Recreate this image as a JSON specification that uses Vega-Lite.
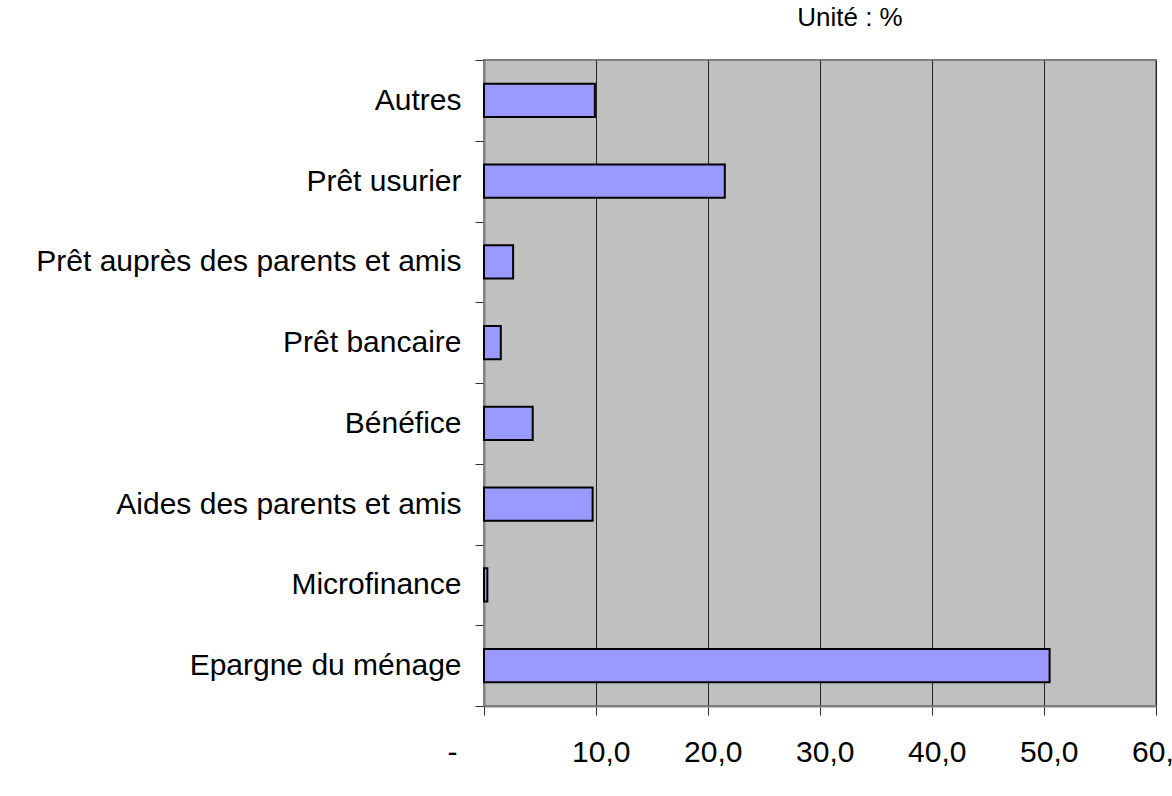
{
  "$schema": "https://vega.github.io/schema/vega-lite/v6.json",
  "autosize": {"type": "none"},
  "padding": {"left": 484, "top": 60, "right": 16, "bottom": 90},
  "width": 672,
  "height": 646,
  "background": "white",
  "title": {
    "text": "Unité : %",
    "font": "Liberation Sans",
    "fontSize": 26,
    "fontWeight": "normal",
    "color": "black",
    "anchor": "middle",
    "dx": 30,
    "baseline": "alphabetic",
    "offset": -7
  },
  "data": {
    "values": [
      {"source": "Autres", "value": 9.9},
      {"source": "Prêt usurier", "value": 21.5},
      {"source": "Prêt auprès des parents et amis", "value": 2.6},
      {"source": "Prêt bancaire", "value": 1.5},
      {"source": "Bénéfice", "value": 4.35},
      {"source": "Aides des parents et amis", "value": 9.7},
      {"source": "Microfinance", "value": 0.3},
      {"source": "Epargne du ménage", "value": 50.5}
    ]
  },
  "mark": {"type": "bar", "height": {"band": 0.41}, "fill": "#9999FF", "stroke": "black", "strokeWidth": 2},
  "encoding": {
    "y": {
      "field": "source",
      "type": "nominal",
      "sort": null,
      "title": null,
      "scale": {"paddingInner": 0, "paddingOuter": 0},
      "axis": {
        "tickBand": "extent",
        "tickSize": 9,
        "tickColor": "#333333",
        "tickWidth": 1,
        "labelPadding": 14,
        "labelFont": "Liberation Sans",
        "labelFontSize": 30,
        "labelColor": "black",
        "labelLimit": 600,
        "domainColor": "#808080",
        "domainWidth": 2,
        "grid": false
      }
    },
    "x": {
      "field": "value",
      "type": "quantitative",
      "title": null,
      "scale": {"domain": [0, 60], "nice": false},
      "axis": {
        "values": [0, 10, 20, 30, 40, 50, 60],
        "labelExpr": "datum.value == 0 ? '-' : replace(format(datum.value, '.1f'), '.', ',')",
        "labelAlign": "right",
        "labelOffset": {"condition": {"test": "datum.value == 0", "value": -27}, "value": 34},
        "labelFont": "Liberation Sans",
        "labelFontSize": 30,
        "labelColor": "black",
        "labelPadding": 22,
        "labelFlush": false,
        "labelOverlap": false,
        "tickSize": 9,
        "tickColor": "#333333",
        "tickWidth": 1,
        "domainColor": "#808080",
        "domainWidth": 2,
        "grid": true,
        "gridColor": "#222222",
        "gridWidth": 1
      }
    }
  },
  "config": {
    "view": {"fill": "#C0C0C0", "stroke": "#808080", "strokeWidth": 2}
  }
}
